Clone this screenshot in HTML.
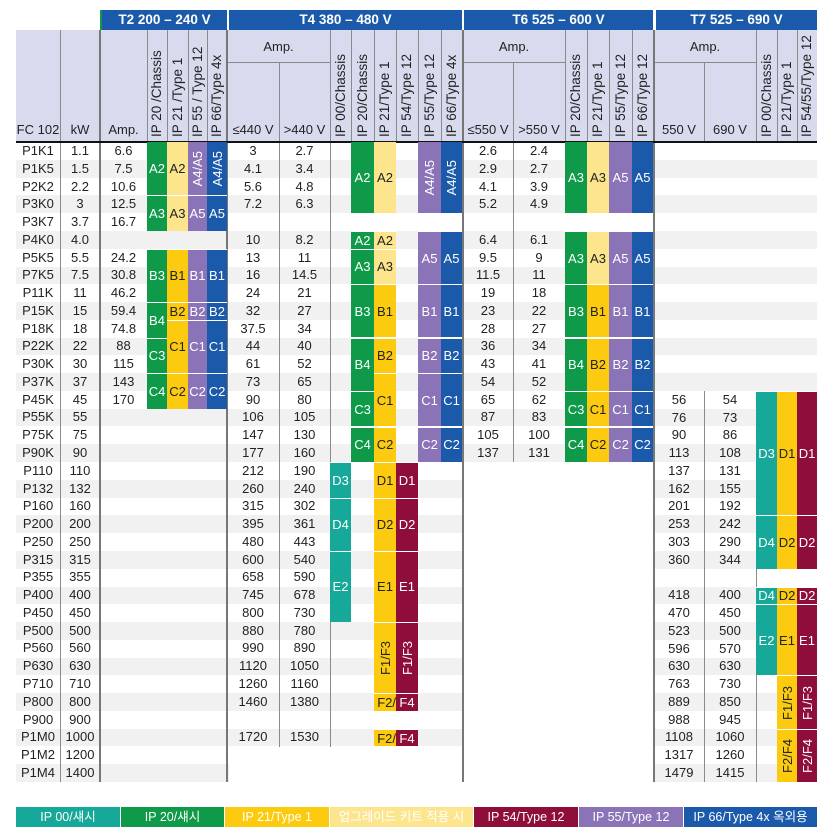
<!DOCTYPE html>
<html><head><meta charset="utf-8">
<style>
*{margin:0;padding:0;box-sizing:border-box}
body{width:832px;height:835px;background:#fff;position:relative;overflow:hidden;font-family:"Liberation Sans","Noto Sans CJK KR",sans-serif;color:#222;font-size:13px}
.a{position:absolute}
.col{position:absolute;top:142px}
.col div{height:17.78px;line-height:17.78px;text-align:center;white-space:nowrap}
.st{position:absolute;left:16px;width:801px;height:17.78px;background:#f1f1f1}
.b{position:absolute;display:flex;align-items:center;justify-content:center;border-top:1px solid #fff;font-size:13px;color:#fff;overflow:hidden;white-space:nowrap}
.g{background:#0e9a49}.t{background:#16a898}.y{background:#fccb10;color:#222}.ly{background:#fde58e;color:#222}.m{background:#8f0d3a}.p{background:#8b73b8}.bl{background:#1b5aaa}
.v{writing-mode:vertical-rl;transform:rotate(180deg)}
.hv{position:absolute;top:30px;height:107px;writing-mode:vertical-rl;transform:rotate(180deg);text-align:left;font-size:13.5px;white-space:nowrap}
.hh{position:absolute;text-align:center;font-size:13px}
.ln{position:absolute;background:#8a8a8a}
.tk{position:absolute;background:#777;width:2px}
.tt{position:absolute;top:10px;height:20px;background:#1b5aaa;color:#fff;font-weight:bold;font-size:13.5px;line-height:20px;text-align:center}
.lg{position:absolute;top:807px;height:20px;line-height:20px;text-align:center;font-size:12.5px;color:#fff}
</style></head><body>

<!-- stripes -->
<div class="st" style="top:159.8px"></div><div class="st" style="top:195.3px"></div><div class="st" style="top:230.9px"></div><div class="st" style="top:266.5px"></div><div class="st" style="top:302px"></div><div class="st" style="top:337.6px"></div><div class="st" style="top:373.1px"></div><div class="st" style="top:408.7px"></div><div class="st" style="top:444.3px"></div><div class="st" style="top:479.8px"></div><div class="st" style="top:515.4px"></div><div class="st" style="top:550.9px"></div><div class="st" style="top:586.5px"></div><div class="st" style="top:622.1px"></div><div class="st" style="top:657.6px"></div><div class="st" style="top:693.2px"></div><div class="st" style="top:728.7px"></div><div class="st" style="top:764.3px"></div>
<div class="a" style="left:464px;top:462px;width:190px;height:320px;background:#fff"></div>
<div class="a" style="left:229px;top:746.5px;width:234px;height:36px;background:#fff"></div>
<div class="a" style="left:229px;top:213.1px;width:425px;height:17.78px;background:#fff"></div>

<!-- title band -->
<div class="tt" style="left:100px;width:127px;border-left:2px solid #0e9a49">T2 200 – 240 V</div>
<div class="tt" style="left:229px;width:233px">T4 380 – 480 V</div>
<div class="tt" style="left:464px;width:189px">T6 525 – 600 V</div>
<div class="tt" style="left:656px;width:161px">T7 525 – 690 V</div>

<!-- header -->
<div class="a" style="left:16px;top:30px;width:801px;height:111px;background:#d8dbee"></div>
<div class="hh" style="left:16px;width:44px;top:122px">FC 102</div>
<div class="hh" style="left:60px;width:40px;top:122px">kW</div>
<div class="hh" style="left:100px;width:47px;top:122px">Amp.</div>
<div class="hh" style="left:227px;width:103px;top:39px">Amp.</div>
<div class="hh" style="left:227px;width:52px;top:122px">≤440 V</div>
<div class="hh" style="left:279px;width:51px;top:122px">&gt;440 V</div>
<div class="hh" style="left:463px;width:102px;top:39px">Amp.</div>
<div class="hh" style="left:463px;width:50px;top:122px">≤550 V</div>
<div class="hh" style="left:513px;width:52px;top:122px">&gt;550 V</div>
<div class="hh" style="left:654px;width:102px;top:39px">Amp.</div>
<div class="hh" style="left:654px;width:50px;top:122px">550 V</div>
<div class="hh" style="left:704px;width:52px;top:122px">690 V</div>

<div class="hv" style="left:147px;width:20px;line-height:20px">IP 20 /Chassis</div>
<div class="hv" style="left:167px;width:21px;line-height:21px">IP 21 /Type 1</div>
<div class="hv" style="left:188px;width:19px;line-height:19px">IP 55 / Type 12</div>
<div class="hv" style="left:207px;width:20px;line-height:20px">IP 66/Type 4x</div>
<div class="hv" style="left:330px;width:21px;line-height:21px">IP 00/Chassis</div>
<div class="hv" style="left:351px;width:23px;line-height:23px">IP 20/Chassis</div>
<div class="hv" style="left:374px;width:22px;line-height:22px">IP 21/Type 1</div>
<div class="hv" style="left:396px;width:22px;line-height:22px">IP 54/Type 12</div>
<div class="hv" style="left:418px;width:23px;line-height:23px">IP 55/Type 12</div>
<div class="hv" style="left:441px;width:21px;line-height:21px">IP 66/Type 4x</div>
<div class="hv" style="left:565px;width:22px;line-height:22px">IP 20/Chassis</div>
<div class="hv" style="left:587px;width:22px;line-height:22px">IP 21/Type 1</div>
<div class="hv" style="left:609px;width:23px;line-height:23px">IP 55/Type 12</div>
<div class="hv" style="left:632px;width:21px;line-height:21px">IP 66/Type 12</div>
<div class="hv" style="left:756px;width:21px;line-height:21px">IP 00/Chassis</div>
<div class="hv" style="left:777px;width:20px;line-height:20px">IP 21/Type 1</div>
<div class="hv" style="left:797px;width:20px;line-height:20px">IP 54/55/Type 12</div>

<!-- header lines -->
<div class="ln" style="left:147px;top:30px;width:1px;height:111px"></div>
<div class="ln" style="left:167px;top:30px;width:1px;height:111px"></div>
<div class="ln" style="left:188px;top:30px;width:1px;height:111px"></div>
<div class="ln" style="left:207px;top:30px;width:1px;height:111px"></div>
<div class="ln" style="left:279px;top:62px;width:1px;height:79px"></div>
<div class="ln" style="left:330px;top:30px;width:1px;height:111px"></div>
<div class="ln" style="left:351px;top:30px;width:1px;height:111px"></div>
<div class="ln" style="left:374px;top:30px;width:1px;height:111px"></div>
<div class="ln" style="left:396px;top:30px;width:1px;height:111px"></div>
<div class="ln" style="left:418px;top:30px;width:1px;height:111px"></div>
<div class="ln" style="left:441px;top:30px;width:1px;height:111px"></div>
<div class="ln" style="left:513px;top:62px;width:1px;height:79px"></div>
<div class="ln" style="left:565px;top:30px;width:1px;height:111px"></div>
<div class="ln" style="left:587px;top:30px;width:1px;height:111px"></div>
<div class="ln" style="left:609px;top:30px;width:1px;height:111px"></div>
<div class="ln" style="left:632px;top:30px;width:1px;height:111px"></div>
<div class="ln" style="left:704px;top:62px;width:1px;height:79px"></div>
<div class="ln" style="left:756px;top:30px;width:1px;height:111px"></div>
<div class="ln" style="left:777px;top:30px;width:1px;height:111px"></div>
<div class="ln" style="left:797px;top:30px;width:1px;height:111px"></div>
<div class="ln" style="left:227px;top:62px;width:103px;height:1px"></div>
<div class="ln" style="left:463px;top:62px;width:102px;height:1px"></div>
<div class="ln" style="left:654px;top:62px;width:102px;height:1px"></div>

<!-- body lines -->
<div class="ln" style="left:60px;top:30px;width:1px;height:752px"></div>
<div class="ln" style="left:279px;top:142px;width:1px;height:605px"></div>
<div class="ln" style="left:330px;top:142px;width:1px;height:605px"></div>
<div class="ln" style="left:513px;top:142px;width:1px;height:320px"></div>
<div class="ln" style="left:704px;top:391px;width:1px;height:391px"></div>
<div class="ln" style="left:756px;top:391px;width:1px;height:391px"></div>
<div class="tk" style="left:99px;top:30px;height:752px"></div>
<div class="tk" style="left:226px;top:30px;height:752px"></div>
<div class="tk" style="left:462px;top:30px;height:752px"></div>
<div class="tk" style="left:653px;top:30px;height:752px"></div>
<div class="a" style="left:16px;top:140.5px;width:801px;height:2px;background:#111"></div>

<!-- data columns -->
<div class="col" style="left:16px;width:44px"><div>P1K1</div><div>P1K5</div><div>P2K2</div><div>P3K0</div><div>P3K7</div><div>P4K0</div><div>P5K5</div><div>P7K5</div><div>P11K</div><div>P15K</div><div>P18K</div><div>P22K</div><div>P30K</div><div>P37K</div><div>P45K</div><div>P55K</div><div>P75K</div><div>P90K</div><div>P110</div><div>P132</div><div>P160</div><div>P200</div><div>P250</div><div>P315</div><div>P355</div><div>P400</div><div>P450</div><div>P500</div><div>P560</div><div>P630</div><div>P710</div><div>P800</div><div>P900</div><div>P1M0</div><div>P1M2</div><div>P1M4</div></div>
<div class="col" style="left:60px;width:40px"><div>1.1</div><div>1.5</div><div>2.2</div><div>3</div><div>3.7</div><div>4.0</div><div>5.5</div><div>7.5</div><div>11</div><div>15</div><div>18</div><div>22</div><div>30</div><div>37</div><div>45</div><div>55</div><div>75</div><div>90</div><div>110</div><div>132</div><div>160</div><div>200</div><div>250</div><div>315</div><div>355</div><div>400</div><div>450</div><div>500</div><div>560</div><div>630</div><div>710</div><div>800</div><div>900</div><div>1000</div><div>1200</div><div>1400</div></div>
<div class="col" style="left:100px;width:47px"><div>6.6</div><div>7.5</div><div>10.6</div><div>12.5</div><div>16.7</div><div>&nbsp;</div><div>24.2</div><div>30.8</div><div>46.2</div><div>59.4</div><div>74.8</div><div>88</div><div>115</div><div>143</div><div>170</div></div>
<div class="col" style="left:227px;width:52px"><div>3</div><div>4.1</div><div>5.6</div><div>7.2</div><div>&nbsp;</div><div>10</div><div>13</div><div>16</div><div>24</div><div>32</div><div>37.5</div><div>44</div><div>61</div><div>73</div><div>90</div><div>106</div><div>147</div><div>177</div><div>212</div><div>260</div><div>315</div><div>395</div><div>480</div><div>600</div><div>658</div><div>745</div><div>800</div><div>880</div><div>990</div><div>1120</div><div>1260</div><div>1460</div><div>&nbsp;</div><div>1720</div></div>
<div class="col" style="left:279px;width:51px"><div>2.7</div><div>3.4</div><div>4.8</div><div>6.3</div><div>&nbsp;</div><div>8.2</div><div>11</div><div>14.5</div><div>21</div><div>27</div><div>34</div><div>40</div><div>52</div><div>65</div><div>80</div><div>105</div><div>130</div><div>160</div><div>190</div><div>240</div><div>302</div><div>361</div><div>443</div><div>540</div><div>590</div><div>678</div><div>730</div><div>780</div><div>890</div><div>1050</div><div>1160</div><div>1380</div><div>&nbsp;</div><div>1530</div></div>
<div class="col" style="left:463px;width:50px"><div>2.6</div><div>2.9</div><div>4.1</div><div>5.2</div><div>&nbsp;</div><div>6.4</div><div>9.5</div><div>11.5</div><div>19</div><div>23</div><div>28</div><div>36</div><div>43</div><div>54</div><div>65</div><div>87</div><div>105</div><div>137</div></div>
<div class="col" style="left:513px;width:52px"><div>2.4</div><div>2.7</div><div>3.9</div><div>4.9</div><div>&nbsp;</div><div>6.1</div><div>9</div><div>11</div><div>18</div><div>22</div><div>27</div><div>34</div><div>41</div><div>52</div><div>62</div><div>83</div><div>100</div><div>131</div></div>
<div class="col" style="left:654px;width:50px;top:390.9px"><div>56</div><div>76</div><div>90</div><div>113</div><div>137</div><div>162</div><div>201</div><div>253</div><div>303</div><div>360</div><div>&nbsp;</div><div>418</div><div>470</div><div>523</div><div>596</div><div>630</div><div>763</div><div>889</div><div>988</div><div>1108</div><div>1317</div><div>1479</div></div>
<div class="col" style="left:704px;width:52px;top:390.9px"><div>54</div><div>73</div><div>86</div><div>108</div><div>131</div><div>155</div><div>192</div><div>242</div><div>290</div><div>344</div><div>&nbsp;</div><div>400</div><div>450</div><div>500</div><div>570</div><div>630</div><div>730</div><div>850</div><div>945</div><div>1060</div><div>1260</div><div>1415</div></div>

<!-- T2 blocks -->
<div class="b g" style="left:147px;top:142px;width:20px;height:53.3px;border-top:0">A2</div>
<div class="b g" style="left:147px;top:195.3px;width:20px;height:35.6px">A3</div>
<div class="b g" style="left:147px;top:248.7px;width:20px;height:53.3px">B3</div>
<div class="b g" style="left:147px;top:302px;width:20px;height:35.6px">B4</div>
<div class="b g" style="left:147px;top:337.6px;width:20px;height:35.6px">C3</div>
<div class="b g" style="left:147px;top:373.1px;width:20px;height:35.6px">C4</div>
<div class="b ly" style="left:167px;top:142px;width:21px;height:53.3px;border-top:0">A2</div>
<div class="b ly" style="left:167px;top:195.3px;width:21px;height:35.6px">A3</div>
<div class="b y" style="left:167px;top:248.7px;width:21px;height:53.3px">B1</div>
<div class="b y" style="left:167px;top:302px;width:21px;height:17.8px">B2</div>
<div class="b y" style="left:167px;top:319.8px;width:21px;height:53.3px">C1</div>
<div class="b y" style="left:167px;top:373.1px;width:21px;height:35.6px">C2</div>
<div class="b p" style="left:188px;top:142px;width:19px;height:53.3px;border-top:0"><span class="v">A4/A5</span></div>
<div class="b p" style="left:188px;top:195.3px;width:19px;height:35.6px">A5</div>
<div class="b p" style="left:188px;top:248.7px;width:19px;height:53.3px">B1</div>
<div class="b p" style="left:188px;top:302px;width:19px;height:17.8px">B2</div>
<div class="b p" style="left:188px;top:319.8px;width:19px;height:53.3px">C1</div>
<div class="b p" style="left:188px;top:373.1px;width:19px;height:35.6px">C2</div>
<div class="b bl" style="left:207px;top:142px;width:20px;height:53.3px;border-top:0"><span class="v">A4/A5</span></div>
<div class="b bl" style="left:207px;top:195.3px;width:20px;height:35.6px">A5</div>
<div class="b bl" style="left:207px;top:248.7px;width:20px;height:53.3px">B1</div>
<div class="b bl" style="left:207px;top:302px;width:20px;height:17.8px">B2</div>
<div class="b bl" style="left:207px;top:319.8px;width:20px;height:53.3px">C1</div>
<div class="b bl" style="left:207px;top:373.1px;width:20px;height:35.6px">C2</div>

<!-- T4 blocks -->
<div class="b t" style="left:330px;top:462px;width:21px;height:35.6px">D3</div>
<div class="b t" style="left:330px;top:497.6px;width:21px;height:53.3px">D4</div>
<div class="b t" style="left:330px;top:550.9px;width:21px;height:71.1px">E2</div>
<div class="b g" style="left:351px;top:142px;width:23px;height:71.1px;border-top:0">A2</div>
<div class="b g" style="left:351px;top:230.9px;width:23px;height:17.8px">A2</div>
<div class="b g" style="left:351px;top:248.7px;width:23px;height:35.6px">A3</div>
<div class="b g" style="left:351px;top:284.2px;width:23px;height:53.3px">B3</div>
<div class="b g" style="left:351px;top:337.6px;width:23px;height:53.3px">B4</div>
<div class="b g" style="left:351px;top:390.9px;width:23px;height:35.6px">C3</div>
<div class="b g" style="left:351px;top:426.5px;width:23px;height:35.6px">C4</div>
<div class="b ly" style="left:374px;top:142px;width:22px;height:71.1px;border-top:0">A2</div>
<div class="b ly" style="left:374px;top:230.9px;width:22px;height:17.8px">A2</div>
<div class="b ly" style="left:374px;top:248.7px;width:22px;height:35.6px">A3</div>
<div class="b y" style="left:374px;top:284.2px;width:22px;height:53.3px">B1</div>
<div class="b y" style="left:374px;top:337.6px;width:22px;height:35.6px">B2</div>
<div class="b y" style="left:374px;top:373.1px;width:22px;height:53.3px">C1</div>
<div class="b y" style="left:374px;top:426.5px;width:22px;height:35.6px">C2</div>
<div class="b y" style="left:374px;top:462px;width:22px;height:35.6px">D1</div>
<div class="b y" style="left:374px;top:497.6px;width:22px;height:53.3px">D2</div>
<div class="b y" style="left:374px;top:550.9px;width:22px;height:71.1px">E1</div>
<div class="b y" style="left:374px;top:622.1px;width:22px;height:71.1px"><span class="v">F1/F3</span></div>
<div class="b y" style="left:374px;top:693.2px;width:22px;height:17.8px;justify-content:flex-end">F2/</div>
<div class="b y" style="left:374px;top:728.7px;width:22px;height:17.8px;justify-content:flex-end">F2/</div>
<div class="b m" style="left:396px;top:462px;width:22px;height:35.6px">D1</div>
<div class="b m" style="left:396px;top:497.6px;width:22px;height:53.3px">D2</div>
<div class="b m" style="left:396px;top:550.9px;width:22px;height:71.1px">E1</div>
<div class="b m" style="left:396px;top:622.1px;width:22px;height:71.1px"><span class="v">F1/F3</span></div>
<div class="b m" style="left:396px;top:693.2px;width:22px;height:17.8px">F4</div>
<div class="b m" style="left:396px;top:728.7px;width:22px;height:17.8px">F4</div>
<div class="b p" style="left:418px;top:142px;width:23px;height:71.1px;border-top:0"><span class="v">A4/A5</span></div>
<div class="b p" style="left:418px;top:230.9px;width:23px;height:53.3px">A5</div>
<div class="b p" style="left:418px;top:284.2px;width:23px;height:53.3px">B1</div>
<div class="b p" style="left:418px;top:337.6px;width:23px;height:35.6px">B2</div>
<div class="b p" style="left:418px;top:373.1px;width:23px;height:53.3px">C1</div>
<div class="b p" style="left:418px;top:426.5px;width:23px;height:35.6px">C2</div>
<div class="b bl" style="left:441px;top:142px;width:21px;height:71.1px;border-top:0"><span class="v">A4/A5</span></div>
<div class="b bl" style="left:441px;top:230.9px;width:21px;height:53.3px">A5</div>
<div class="b bl" style="left:441px;top:284.2px;width:21px;height:53.3px">B1</div>
<div class="b bl" style="left:441px;top:337.6px;width:21px;height:35.6px">B2</div>
<div class="b bl" style="left:441px;top:373.1px;width:21px;height:53.3px">C1</div>
<div class="b bl" style="left:441px;top:426.5px;width:21px;height:35.6px">C2</div>

<!-- T6 blocks -->
<div class="b g" style="left:565px;top:142px;width:22px;height:71.1px;border-top:0">A3</div>
<div class="b g" style="left:565px;top:230.9px;width:22px;height:53.3px">A3</div>
<div class="b g" style="left:565px;top:284.2px;width:22px;height:53.3px">B3</div>
<div class="b g" style="left:565px;top:337.6px;width:22px;height:53.3px">B4</div>
<div class="b g" style="left:565px;top:390.9px;width:22px;height:35.6px">C3</div>
<div class="b g" style="left:565px;top:426.5px;width:22px;height:35.6px">C4</div>
<div class="b ly" style="left:587px;top:142px;width:22px;height:71.1px;border-top:0">A3</div>
<div class="b ly" style="left:587px;top:230.9px;width:22px;height:53.3px">A3</div>
<div class="b y" style="left:587px;top:284.2px;width:22px;height:53.3px">B1</div>
<div class="b y" style="left:587px;top:337.6px;width:22px;height:53.3px">B2</div>
<div class="b y" style="left:587px;top:390.9px;width:22px;height:35.6px">C1</div>
<div class="b y" style="left:587px;top:426.5px;width:22px;height:35.6px">C2</div>
<div class="b p" style="left:609px;top:142px;width:23px;height:71.1px;border-top:0">A5</div>
<div class="b p" style="left:609px;top:230.9px;width:23px;height:53.3px">A5</div>
<div class="b p" style="left:609px;top:284.2px;width:23px;height:53.3px">B1</div>
<div class="b p" style="left:609px;top:337.6px;width:23px;height:53.3px">B2</div>
<div class="b p" style="left:609px;top:390.9px;width:23px;height:35.6px">C1</div>
<div class="b p" style="left:609px;top:426.5px;width:23px;height:35.6px">C2</div>
<div class="b bl" style="left:632px;top:142px;width:21px;height:71.1px;border-top:0">A5</div>
<div class="b bl" style="left:632px;top:230.9px;width:21px;height:53.3px">A5</div>
<div class="b bl" style="left:632px;top:284.2px;width:21px;height:53.3px">B1</div>
<div class="b bl" style="left:632px;top:337.6px;width:21px;height:53.3px">B2</div>
<div class="b bl" style="left:632px;top:390.9px;width:21px;height:35.6px">C1</div>
<div class="b bl" style="left:632px;top:426.5px;width:21px;height:35.6px">C2</div>

<!-- T7 blocks -->
<div class="b t" style="left:756px;top:390.9px;width:21px;height:124.5px">D3</div>
<div class="b t" style="left:756px;top:515.4px;width:21px;height:53.3px">D4</div>
<div class="b t" style="left:756px;top:586.5px;width:21px;height:17.8px">D4</div>
<div class="b t" style="left:756px;top:604.3px;width:21px;height:71.1px">E2</div>
<div class="b y" style="left:777px;top:390.9px;width:20px;height:124.5px">D1</div>
<div class="b y" style="left:777px;top:515.4px;width:20px;height:53.3px">D2</div>
<div class="b y" style="left:777px;top:586.5px;width:20px;height:17.8px">D2</div>
<div class="b y" style="left:777px;top:604.3px;width:20px;height:71.1px">E1</div>
<div class="b y" style="left:777px;top:675.4px;width:20px;height:53.3px"><span class="v">F1/F3</span></div>
<div class="b y" style="left:777px;top:728.7px;width:20px;height:53.3px"><span class="v">F2/F4</span></div>
<div class="b m" style="left:797px;top:390.9px;width:20px;height:124.5px">D1</div>
<div class="b m" style="left:797px;top:515.4px;width:20px;height:53.3px">D2</div>
<div class="b m" style="left:797px;top:586.5px;width:20px;height:17.8px">D2</div>
<div class="b m" style="left:797px;top:604.3px;width:20px;height:71.1px">E1</div>
<div class="b m" style="left:797px;top:675.4px;width:20px;height:53.3px"><span class="v">F1/F3</span></div>
<div class="b m" style="left:797px;top:728.7px;width:20px;height:53.3px"><span class="v">F2/F4</span></div>

<!-- legend -->
<div class="lg t" style="left:16px;width:104px">IP 00/섀시</div>
<div class="lg g" style="left:121px;width:103px">IP 20/섀시</div>
<div class="lg y" style="left:225px;width:104px">IP 21/Type 1</div>
<div class="lg ly" style="left:330px;width:143px">업그레이드 키트 적용 시</div>
<div class="lg m" style="left:474px;width:104px">IP 54/Type 12</div>
<div class="lg p" style="left:579px;width:104px">IP 55/Type 12</div>
<div class="lg bl" style="left:684px;width:133px">IP 66/Type 4x 옥외용</div>
</body></html>
